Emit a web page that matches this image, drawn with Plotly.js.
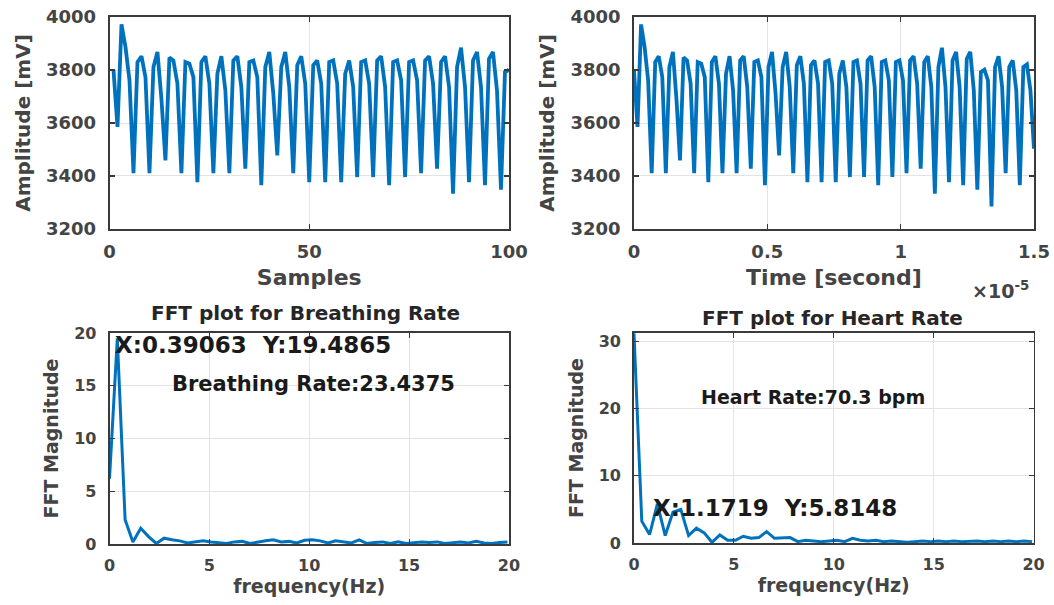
<!DOCTYPE html>
<html>
<head>
<meta charset="utf-8">
<script src="https://cdn.plot.ly/plotly-3.0.1.min.js"></script>
<style>html,body{margin:0;padding:0;background:#fff;}#chart{width:1054px;height:605px;}</style>
</head>
<body>
<div id="chart"></div>
<script>
// Raw amplitude samples (mV), samples 1..114
const amplitude = [
 3800,3585,3972,3887,3761,3411,3830,3852,3773,3411,
 3811,3868,3690,3459,3847,3836,3748,3411,3830,3824,
 3773,3377,3830,3852,3748,3411,3786,3852,3723,3411,
 3836,3852,3736,3428,3830,3836,3773,3365,3811,3868,
 3711,3478,3811,3868,3736,3411,3818,3852,3748,3377,
 3818,3836,3748,3377,3830,3836,3748,3377,3786,3836,
 3736,3396,3830,3836,3748,3396,3836,3852,3736,3365,
 3830,3836,3761,3396,3830,3836,3761,3411,3836,3852,
 3748,3428,3830,3852,3736,3333,3811,3884,3736,3377,
 3836,3868,3736,3365,3842,3868,3723,3348,3792,3801,
 3761,3285,3811,3852,3736,3411,3811,3836,3723,3365,
 3811,3821,3723,3503
];
const samplesShown = 100;          // left panel shows samples 1..100
const timeSpan = 1.5e-5;           // right panel time span (s)

// FFT magnitudes, bins spaced 0.390625 Hz
const binWidth = 0.390625;
const breathingFFT = [
 6.2,19.4865,2.3,0.2,1.5,0.7,0.05,0.55,0.4,0.3,
 0.1,0.2,0.3,0.2,0.1,0.05,0.2,0.25,0.05,0.2,
 0.3,0.4,0.2,0.25,0.1,0.35,0.4,0.3,0.1,0.3,
 0.2,0.1,0.4,0.05,0.15,0.2,0.05,0.2,0.05,0.15,
 0.2,0.15,0.2,0.05,0.15,0.2,0.1,0.25,0.1,0.05,
 0.15,0.2
];
const heartFFT = [
 31.2,3.25,1.25,5.8148,1.1,4.6,5.0,1.1,2.2,1.5,
 0.1,1.2,0.4,0.4,1.0,0.7,0.8,1.7,0.7,0.7,
 0.8,0.2,0.4,0.3,0.2,0.3,0.4,0.2,0.7,0.4,
 0.3,0.4,0.2,0.3,0.2,0.1,0.2,0.3,0.2,0.3,
 0.2,0.3,0.2,0.3,0.3,0.2,0.3,0.2,0.3,0.2,
 0.3,0.2
];

const sampleIdx = amplitude.slice(0, samplesShown).map((v, i) => i + 1);
const dt = timeSpan / (amplitude.length - 1);
const timeAxis = amplitude.map((v, i) => i * dt);
const fB = breathingFFT.map((v, i) => i * binWidth);
const fH = heartFFT.map((v, i) => i * binWidth);

const blue = '#0072BD';
const FONT = 'DejaVu Sans, Arial, sans-serif';
const tickGray = '#444444';

const traces = [
  {x: sampleIdx, y: amplitude.slice(0, samplesShown), xaxis: 'x', yaxis: 'y', mode: 'lines', line: {color: blue, width: 3.8}, hoverinfo: 'skip'},
  {x: timeAxis, y: amplitude, xaxis: 'x2', yaxis: 'y2', mode: 'lines', line: {color: blue, width: 3.8}, hoverinfo: 'skip'},
  {x: fB, y: breathingFFT, xaxis: 'x3', yaxis: 'y3', mode: 'lines', line: {color: blue, width: 3}, hoverinfo: 'skip'},
  {x: fH, y: heartFFT, xaxis: 'x4', yaxis: 'y4', mode: 'lines', line: {color: blue, width: 3}, hoverinfo: 'skip'}
];

function ax(extra) {
  return Object.assign({
    showline: true, linecolor: '#3a3a3a', linewidth: 1.8, mirror: 'ticks',
    ticks: 'inside', ticklen: 5, tickcolor: '#3a3a3a', tickwidth: 1.2,
    showgrid: true, gridcolor: '#e3e3e3', gridwidth: 1, zeroline: false,
    automargin: false, fixedrange: true
  }, extra);
}
const topTick = {family: FONT, size: 18, color: tickGray, weight: 'bold'};
const botTick = {family: FONT, size: 16, color: tickGray, weight: 'bold'};

const layout = {
  width: 1054, height: 605,
  margin: {l: 0, r: 0, t: 0, b: 0},
  paper_bgcolor: '#fff', plot_bgcolor: '#fff',
  showlegend: false,
  font: {family: FONT, weight: 'bold', color: tickGray},
  xaxis: ax({domain: [0.1039, 0.4829], anchor: 'y', range: [0, 100], tickvals: [0, 50, 100],
    tickfont: topTick, ticklabelstandoff: 6,
    title: {text: 'Samples', font: {family: FONT, size: 22, color: tickGray, weight: 'bold'}, standoff: 8}}),
  yaxis: ax({domain: [0.6215, 0.9719], anchor: 'x', range: [3200, 4000], tickvals: [3200, 3400, 3600, 3800, 4000],
    tickfont: topTick, ticklabelstandoff: 8,
    title: {text: 'Amplitude [mV]', font: {family: FONT, size: 20, color: tickGray, weight: 'bold'}, standoff: 10}}),
  xaxis2: ax({domain: [0.6015, 0.9810], anchor: 'y2', range: [0, 1.5e-5], tickvals: [0, 0.5e-5, 1e-5, 1.5e-5],
    ticktext: ['0', '0.5', '1', '1.5'], tickfont: topTick, ticklabelstandoff: 6,
    title: {text: 'Time [second]', font: {family: FONT, size: 22, color: tickGray, weight: 'bold'}, standoff: 8}}),
  yaxis2: ax({domain: [0.6215, 0.9719], anchor: 'x2', range: [3200, 4000], tickvals: [3200, 3400, 3600, 3800, 4000],
    tickfont: topTick, ticklabelstandoff: 8,
    title: {text: 'Amplitude [mV]', font: {family: FONT, size: 20, color: tickGray, weight: 'bold'}, standoff: 10}}),
  xaxis3: ax({domain: [0.1039, 0.4829], anchor: 'y3', range: [0, 20], tickvals: [0, 5, 10, 15, 20],
    tickfont: botTick, ticklabelstandoff: 6,
    title: {text: 'frequency(Hz)', font: {family: FONT, size: 19, color: tickGray, weight: 'bold'}, standoff: 6}}),
  yaxis3: ax({domain: [0.1008, 0.4496], anchor: 'x3', range: [0, 20], tickvals: [0, 5, 10, 15, 20],
    tickfont: botTick, ticklabelstandoff: 8,
    title: {text: 'FFT Magnitude', font: {family: FONT, size: 19, color: tickGray, weight: 'bold'}, standoff: 10}}),
  xaxis4: ax({domain: [0.6015, 0.9806], anchor: 'y4', range: [0, 20], tickvals: [0, 5, 10, 15, 20],
    tickfont: botTick, ticklabelstandoff: 6,
    title: {text: 'frequency(Hz)', font: {family: FONT, size: 19, color: tickGray, weight: 'bold'}, standoff: 6}}),
  yaxis4: ax({domain: [0.1025, 0.4496], anchor: 'x4', range: [0, 31.25], tickvals: [0, 10, 20, 30],
    tickfont: botTick, ticklabelstandoff: 8,
    title: {text: 'FFT Magnitude', font: {family: FONT, size: 19, color: tickGray, weight: 'bold'}, standoff: 10}}),
  annotations: [
    {xref: 'paper', yref: 'paper', x: 0.2903, y: 0.4826, text: 'FFT plot for Breathing Rate', showarrow: false,
     xanchor: 'center', yanchor: 'middle', font: {family: FONT, size: 20, color: '#262626', weight: 'bold'}},
    {xref: 'paper', yref: 'paper', x: 0.7903, y: 0.4744, text: 'FFT plot for Heart Rate', showarrow: false,
     xanchor: 'center', yanchor: 'middle', font: {family: FONT, size: 20, color: '#262626', weight: 'bold'}},
    {xref: 'x3', yref: 'y3', x: 7.18, y: 18.86, text: 'X:0.39063\u00a0\u00a0Y:19.4865', showarrow: false,
     xanchor: 'center', yanchor: 'middle', font: {family: FONT, size: 23, color: '#1a1a1a', weight: 'bold'}},
    {xref: 'x3', yref: 'y3', x: 10.21, y: 15.17, text: 'Breathing Rate:23.4375', showarrow: false,
     xanchor: 'center', yanchor: 'middle', font: {family: FONT, size: 21, color: '#1a1a1a', weight: 'bold'}},
    {xref: 'x4', yref: 'y4', x: 8.94, y: 21.73, text: 'Heart Rate:70.3 bpm', showarrow: false,
     xanchor: 'center', yanchor: 'middle', font: {family: FONT, size: 19, color: '#1a1a1a', weight: 'bold'}},
    {xref: 'x4', yref: 'y4', x: 7.06, y: 5.21, text: 'X:1.1719\u00a0\u00a0Y:5.8148', showarrow: false,
     xanchor: 'center', yanchor: 'middle', font: {family: FONT, size: 23, color: '#1a1a1a', weight: 'bold'}},
    {xref: 'paper', yref: 'paper', x: 0.9488, y: 0.52, text: '\u00d710<sup>-5</sup>', showarrow: false,
     xanchor: 'center', yanchor: 'middle', font: {family: FONT, size: 19, color: tickGray, weight: 'bold'}}
  ]
};

Plotly.newPlot('chart', traces, layout, {displayModeBar: false, staticPlot: true});
</script>
</body>
</html>
